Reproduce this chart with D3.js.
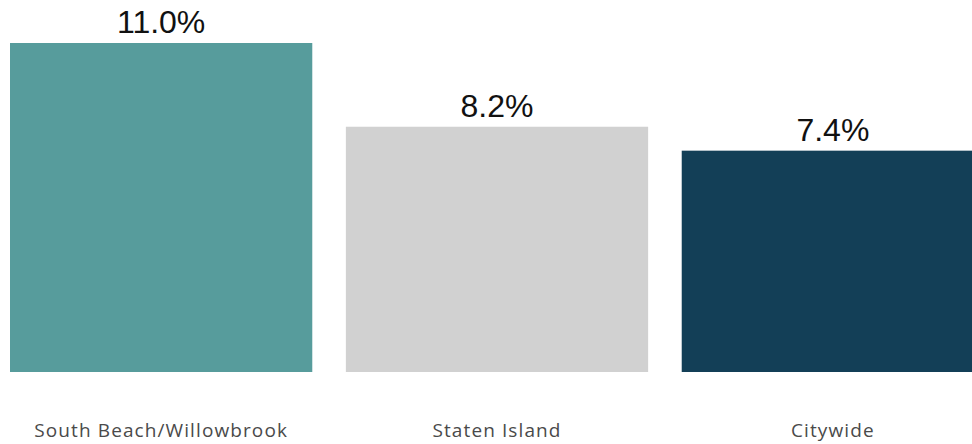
<!DOCTYPE html>
<html><head><meta charset="utf-8">
<script src="https://cdn.jsdelivr.net/npm/d3@7"></script>
<style>body{margin:0;background:#fff;overflow:hidden}</style>
</head><body>
<svg id="c" width="972" height="444"></svg>
<script>
const categories = ["South Beach/Willowbrook", "Staten Island", "Citywide"];
const values = [11.0, 8.2, 7.4];
const colors = ["#579c9c", "#d1d1d1", "#133f57"];

const svg = d3.select("#c");
const x = d3.scaleBand().domain(categories).range([10, 984]).paddingInner(0.1).paddingOuter(0);
const y = d3.scaleLinear().domain([0, 11.0]).range([372, 43]);

svg.selectAll("rect.bar").data(values).join("rect")
  .attr("class", "bar")
  .attr("x", (d, i) => x(categories[i]))
  .attr("width", x.bandwidth())
  .attr("y", d => y(d))
  .attr("height", d => y(0) - y(d))
  .attr("fill", (d, i) => colors[i]);

svg.selectAll("text.val").data(values).join("text")
  .attr("class", "val")
  .attr("x", (d, i) => x(categories[i]) + x.bandwidth() / 2)
  .attr("y", d => y(d) - 10)
  .attr("text-anchor", "middle")
  .attr("font-family", "Liberation Sans, Arial, sans-serif")
  .attr("font-size", 32)
  .attr("fill", "#111")
  .text(d => d.toFixed(1) + "%");

const axis = d3.axisBottom(x).tickSize(0).tickPadding(0);
const g = svg.append("g").attr("transform", "translate(0,423)").call(axis);
g.select(".domain").remove();
g.selectAll("text")
  .attr("font-family", "Open Sans, Noto Sans, sans-serif")
  .attr("font-size", 19)
  .attr("letter-spacing", "1.1px")
  .attr("fill", "#4a4a4a")
  .attr("dy", "0.71em");
</script>
</body></html>
